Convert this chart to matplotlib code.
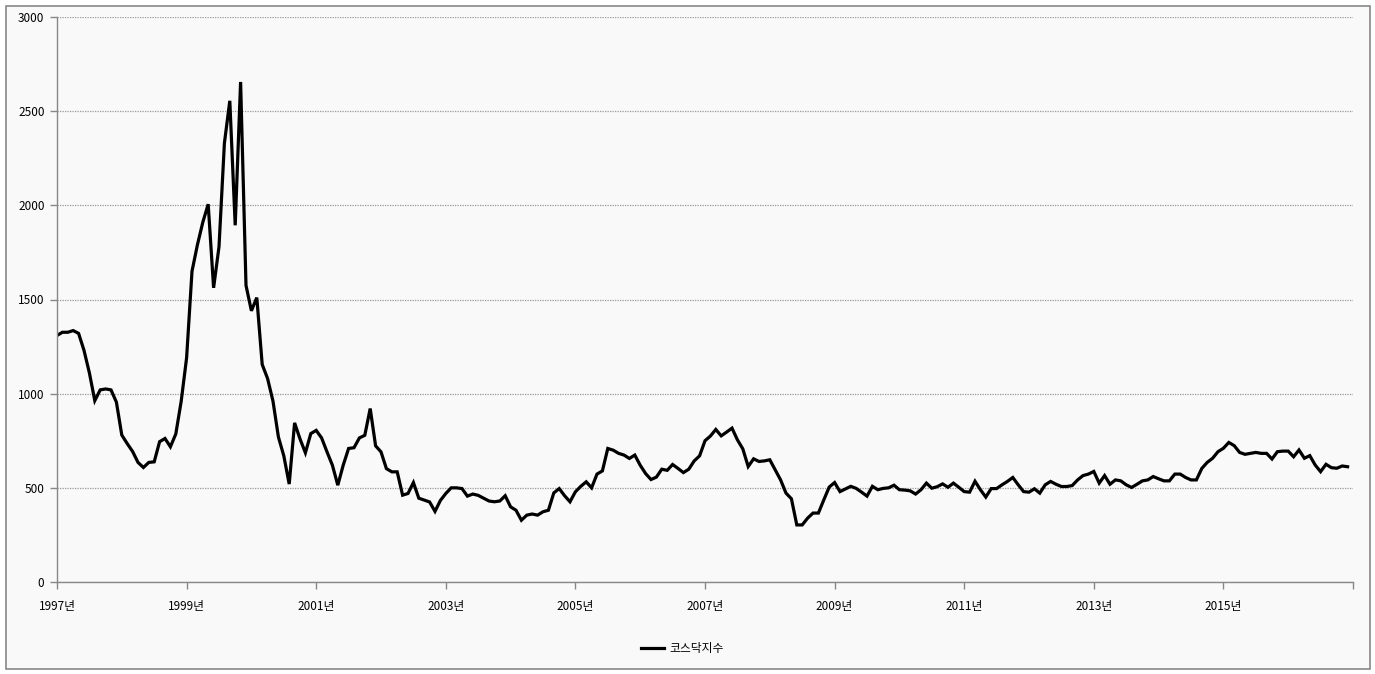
import matplotlib.pyplot as plt
from matplotlib.patches import Rectangle

plt.rcParams['font.family'] = ['Noto Sans CJK KR', 'DejaVu Sans']

# monthly KOSDAQ index, Jan 1997 .. Dec 2016
kosdaq = [
    1309, 1326, 1326, 1335, 1320, 1230, 1110, 963, 1020, 1025, 1020, 955,
    780, 735, 693, 635, 608, 635, 638, 745, 762, 718, 786, 960,
    1190, 1650, 1790, 1910, 2006, 1562, 1780, 2330, 2555, 1894, 2655, 1575,
    1440, 1510, 1155, 1080, 960, 770, 670, 520, 845, 760, 686, 788,
    805, 765, 691, 620, 514, 620, 709, 713, 765, 779, 921, 723,
    691, 602, 585, 585, 461, 470, 528, 445, 435, 425, 375, 433,
    470, 500, 500, 496, 456, 467, 460, 445, 430, 426, 430, 458,
    399, 381, 328, 355, 361, 355, 373, 381, 473, 496, 458, 426,
    479, 508, 532, 500, 573, 590, 709, 700, 683, 674, 656, 674,
    620, 576, 544, 557, 599, 593, 624, 603, 581, 599, 643, 670,
    750, 775, 810, 776, 796, 817, 755, 707, 613, 654, 640, 643,
    649, 596, 542, 472, 442, 303, 303, 339, 366, 366, 436, 504,
    528, 480, 494, 508, 497, 477, 456, 508, 490, 497, 500, 514,
    490, 488, 484, 467, 490, 525, 498, 506, 521, 503, 525, 503,
    480, 477, 535, 490, 451, 496, 496, 516, 534, 555, 516, 480,
    477, 495, 472, 516, 534, 519, 507, 507, 512, 542, 565, 573,
    587, 525, 565, 519, 542, 537, 516, 502, 519, 537, 542, 560,
    548, 537, 537, 573, 573, 555, 542, 542, 603, 635, 657, 692,
    710, 741, 724, 688, 678, 683, 688, 683, 683, 653, 692, 695,
    695, 665, 701, 657, 671, 621, 586, 625, 607, 604, 616, 612,
]
months = list(range(len(kosdaq)))

tick_pos = [0, 24, 48, 72, 96, 120, 144, 168, 192, 216, 240]
tick_labels = ['1997년', '1999년', '2001년', '2003년', '2005년', '2007년',
               '2009년', '2011년', '2013년', '2015년', '']
y_ticks = [0, 500, 1000, 1500, 2000, 2500, 3000]

fig = plt.figure(figsize=(13.75, 6.74), dpi=100, facecolor='white')
frame = Rectangle((6 / 1375, 5 / 674), 1364 / 1375, 663 / 674,
                  transform=fig.transFigure, facecolor='#f9f9f9',
                  edgecolor='#888888', linewidth=1.2, zorder=-10)
fig.patches.append(frame)

ax = fig.add_axes([57 / 1375, 1 - 582 / 674, 1296 / 1375, 565 / 674])
ax.set_zorder(1)
ax.patch.set_alpha(0)

line, = ax.plot(months, kosdaq, color='black', linewidth=2.3,
                solid_joinstyle='miter', label='코스닥지수')

ax.set_xlim(0, 240)
ax.set_ylim(0, 3000)
ax.set_xticks(tick_pos)
ax.set_xticklabels(tick_labels)
ax.set_yticks(y_ticks)
ax.yaxis.grid(True, linestyle=(0, (1, 1)), color='#999999', linewidth=0.9)
ax.set_axisbelow(True)

for side in ['top', 'right']:
    ax.spines[side].set_visible(False)
for side in ['left', 'bottom']:
    ax.spines[side].set_color('#888888')
    ax.spines[side].set_linewidth(1.0)

ax.tick_params(axis='both', colors='#888888', length=5, width=1.0,
               labelcolor='black', labelsize=8.5)
ax.tick_params(axis='x', pad=8)
ax.tick_params(axis='y', pad=4)

leg = fig.legend(handles=[line], loc='center', bbox_to_anchor=(0.496, 0.038),
                 frameon=False, fontsize=8.5, handlelength=2.0, handletextpad=0.4)
leg.set_zorder(2)

fig.savefig('out.png', dpi=100, facecolor='white')
